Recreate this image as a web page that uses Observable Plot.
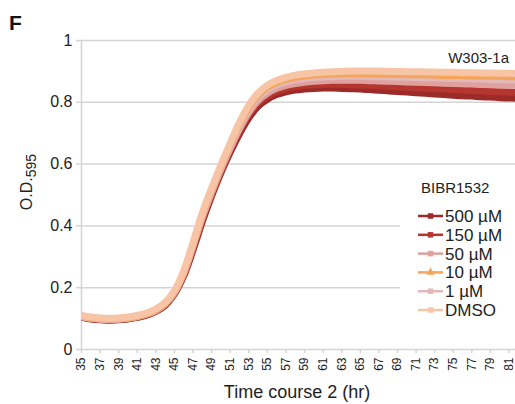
<!DOCTYPE html>
<html>
<head>
<meta charset="utf-8">
<script src="https://cdn.jsdelivr.net/npm/d3@7"></script>
<script src="https://cdn.jsdelivr.net/npm/@observablehq/plot@0.6"></script>
<style>
  html, body { margin: 0; padding: 0; background: #fff; }
  #chart { width: 515px; height: 404px; }
  svg { font-family: "Liberation Sans", Arial, Helvetica, sans-serif; }
</style>
</head>
<body>
<div id="chart"></div>
<script>
// ---- Data ----
const hours = [35,36,37,38,39,40,41,42,43,44,45,46,47,48,49,50,51,52,53,54,55,56,57,58,59,60,
  61,62,63,64,65,66,67,68,69,70,71,72,73,74,75,76,77,78,79,80,81,82];

const od500 = [0.104,0.099,0.096,0.095,0.096,0.099,0.104,0.111,0.123,0.143,0.180,0.238,0.322,0.414,0.497,0.572,
  0.638,0.698,0.749,0.787,0.810,0.825,0.834,0.840,0.843,0.845,0.846,0.846,0.845,0.844,0.843,0.841,
  0.839,0.837,0.835,0.833,0.831,0.829,0.827,0.825,0.823,0.821,0.820,0.818,0.817,0.815,0.814,0.813];
const od150 = [0.105,0.100,0.097,0.096,0.097,0.100,0.105,0.113,0.125,0.145,0.183,0.243,0.329,0.422,0.503,0.578,
  0.645,0.707,0.759,0.797,0.820,0.835,0.845,0.851,0.855,0.857,0.858,0.858,0.858,0.857,0.856,0.855,
  0.853,0.852,0.850,0.849,0.847,0.846,0.844,0.843,0.841,0.840,0.838,0.837,0.835,0.834,0.833,0.832];
const od50 = [0.106,0.101,0.098,0.097,0.098,0.101,0.106,0.114,0.126,0.147,0.185,0.246,0.334,0.428,0.508,0.583,
  0.651,0.714,0.767,0.805,0.829,0.845,0.855,0.861,0.865,0.868,0.870,0.871,0.871,0.871,0.871,0.870,
  0.869,0.868,0.867,0.866,0.865,0.864,0.863,0.862,0.861,0.860,0.859,0.858,0.857,0.856,0.855,0.855];
const od10 = [0.108,0.103,0.100,0.099,0.100,0.103,0.108,0.116,0.129,0.150,0.188,0.251,0.342,0.438,0.518,0.593,
  0.664,0.729,0.784,0.823,0.848,0.864,0.874,0.881,0.885,0.888,0.890,0.891,0.892,0.892,0.892,0.892,
  0.891,0.891,0.890,0.890,0.889,0.889,0.888,0.887,0.887,0.886,0.885,0.885,0.884,0.884,0.883,0.882];
const od1 = [0.107,0.102,0.099,0.098,0.099,0.102,0.107,0.115,0.128,0.149,0.187,0.249,0.339,0.434,0.514,0.589,
  0.658,0.722,0.776,0.815,0.840,0.856,0.866,0.873,0.877,0.880,0.882,0.883,0.884,0.884,0.884,0.883,
  0.883,0.882,0.881,0.881,0.880,0.879,0.879,0.878,0.877,0.876,0.876,0.875,0.874,0.873,0.873,0.872];
const odDMSO = [0.110,0.105,0.102,0.101,0.102,0.105,0.110,0.118,0.131,0.152,0.190,0.255,0.346,0.442,0.522,0.597,
  0.668,0.735,0.790,0.830,0.855,0.871,0.881,0.888,0.892,0.895,0.897,0.899,0.900,0.901,0.901,0.901,
  0.901,0.900,0.900,0.899,0.899,0.898,0.898,0.897,0.897,0.896,0.896,0.895,0.895,0.894,0.894,0.893];

const seriesNames = ["500 µM", "150 µM", "50 µM", "10 µM", "1 µM", "DMSO"];
const seriesValues = [od500, od150, od50, od10, od1, odDMSO];
const seriesColors = ["#9b2a28", "#b5352f", "#dfa09e", "#f4a55a", "#e2b8b8", "#f7c4a5"];
const seriesSymbols = ["square", "square", "square", "triangle", "square", "square"];
const drawOrder = ["500 µM", "150 µM", "50 µM", "1 µM", "10 µM", "DMSO"];

const xTicks = [35,37,39,41,43,45,47,49,51,53,55,57,59,61,63,65,67,69,71,73,75,77,79,81];
const yTicks = [0, 0.2, 0.4, 0.6, 0.8, 1];
const yTickLabels = ["0", "0.2", "0.4", "0.6", "0.8", "1"];

const panelLetter = "F";
const strainLabel = "W303-1a";
const legendTitle = "BIBR1532";
const xTitle = "Time course 2 (hr)";

// ---- Build table ----
const rows = [];
seriesNames.forEach((name, i) => {
  hours.forEach((h, j) => rows.push({series: name, hour: h, od: seriesValues[i][j]}));
});
const colorOf = Object.fromEntries(seriesNames.map((n, i) => [n, seriesColors[i]]));

const gridColor = "#d4d4d4";

const plot = Plot.plot({
  width: 515,
  height: 404,
  marginLeft: 81,
  marginRight: 0,
  marginTop: 40,
  marginBottom: 55,
  style: {fontFamily: '"Liberation Sans", Arial, sans-serif', background: "#fff"},
  x: {domain: [35, 81.7]},
  y: {domain: [0, 1]},
  marks: [
    Plot.gridY(yTicks.filter(d => d > 0), {stroke: gridColor, strokeOpacity: 1, strokeWidth: 1.5}),
    Plot.ruleY([0], {stroke: gridColor, strokeWidth: 1.5}),
    Plot.ruleX([35], {y1: 0, y2: 1, stroke: gridColor, strokeWidth: 1.5}),
    Plot.axisY({ticks: yTicks, tickFormat: d => yTickLabels[yTicks.indexOf(d)], tickSize: 5,
      tickPadding: 4, stroke: gridColor, strokeWidth: 1.5, fontSize: 16, fill: "#222", label: null}),
    Plot.axisX({ticks: xTicks, tickRotate: -90, tickSize: 4, tickPadding: 4, stroke: gridColor,
      strokeWidth: 1.5, fontSize: 12, fill: "#222", label: null}),
    ...drawOrder.map(name => Plot.line(rows.filter(r => r.series === name), {
      x: "hour", y: "od", stroke: colorOf[name], strokeWidth: 7, curve: "catmull-rom", clip: true
    }))
  ]
});

document.getElementById("chart").appendChild(plot);

// ---- Annotations (text & legend) ----
const svg = d3.select(plot);

svg.append("text").attr("x", 9).attr("y", 30).attr("font-size", 21).attr("font-weight", "bold")
  .attr("text-anchor", "start").attr("fill", "#111").text(panelLetter);

svg.append("text").attr("x", 509).attr("y", 63).attr("text-anchor", "end").attr("font-size", 15)
  .attr("fill", "#222").text(strainLabel);

const yl = svg.append("text").attr("transform", "translate(32,182) rotate(-90)")
  .attr("text-anchor", "middle").attr("font-size", 16).attr("fill", "#222");
yl.append("tspan").text("O.D.");
yl.append("tspan").attr("font-size", 14).attr("dy", 4).text("595");

svg.append("text").attr("x", 297).attr("y", 398).attr("text-anchor", "middle")
  .attr("font-size", 18).attr("fill", "#222").text(xTitle);

// legend
const lg = svg.append("g").attr("text-anchor", "start");
lg.append("rect").attr("x", 400).attr("y", 170).attr("width", 115).attr("height", 158).attr("fill", "#fff");
lg.append("text").attr("x", 421).attr("y", 193).attr("font-size", 15).attr("fill", "#222").text(legendTitle);
seriesNames.forEach((name, i) => {
  const y = 216 + i * 18.8;
  const g = lg.append("g");
  g.append("line").attr("x1", 418).attr("x2", 443).attr("y1", y).attr("y2", y)
    .attr("stroke", seriesColors[i]).attr("stroke-width", 2.5);
  g.append("path").attr("transform", `translate(430.5,${y})`)
    .attr("d", d3.symbol(seriesSymbols[i] === "triangle" ? d3.symbolTriangle : d3.symbolSquare, 30)())
    .attr("fill", seriesColors[i]);
  g.append("text").attr("x", 445).attr("y", y + 6).attr("font-size", 17).attr("fill", "#222").text(name);
});
</script>
</body>
</html>
